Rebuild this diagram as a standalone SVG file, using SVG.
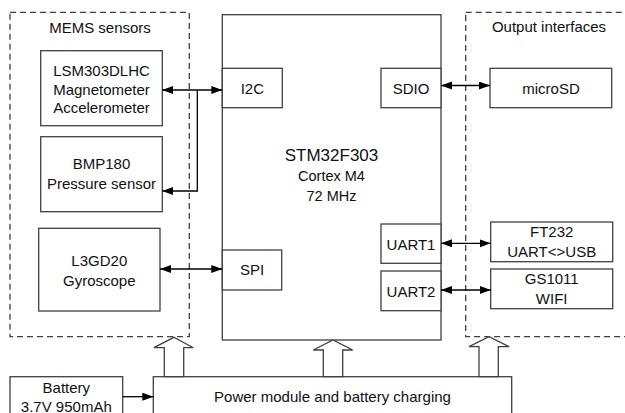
<svg xmlns="http://www.w3.org/2000/svg" width="625" height="413" viewBox="0 0 625 413">
<defs>
<marker id="ah" markerUnits="userSpaceOnUse" markerWidth="12" markerHeight="9" refX="11" refY="4" orient="auto-start-reverse">
<path d="M0,0 L11,4 L0,8 z" fill="#000"/>
</marker>
<style>
.box{fill:#fff;stroke:#404040;stroke-width:1.3}
.dash{fill:none;stroke:#404040;stroke-width:1.3;stroke-dasharray:6,4}
.t{font-family:"Liberation Sans",Arial,sans-serif;font-size:15px;fill:#111;text-anchor:middle}
.s{font-size:14.5px}
.big{font-size:17px}
.ln{fill:none;stroke:#000;stroke-width:1.3}
.blk{fill:#fff;stroke:#404040;stroke-width:1.3}
</style>
</defs>
<rect width="625" height="413" fill="#fff"/>

<g id="mems-group">
<rect class="dash" x="10" y="12.3" width="179.3" height="324.4"/>
<text class="t" x="100" y="33.3">MEMS sensors</text>
</g>
<g id="output-group">
<rect class="dash" x="465.7" y="12.3" width="200" height="324.4"/>
<text class="t" x="549" y="32.3">Output interfaces</text>
</g>

<g id="lsm303">
<rect class="box" x="40.7" y="50.7" width="121.6" height="75"/>
<text class="t" x="101.5" y="76">LSM303DLHC</text>
<text class="t" x="101.5" y="94.5">Magnetometer</text>
<text class="t" x="101.5" y="113.3">Accelerometer</text>
</g>
<g id="bmp180">
<rect class="box" x="40.7" y="136.7" width="121.6" height="75"/>
<text class="t" x="101.5" y="169.3">BMP180</text>
<text class="t" x="101.5" y="189.3">Pressure sensor</text>
</g>
<g id="l3gd20">
<rect class="box" x="38.7" y="228.3" width="121.3" height="82.7"/>
<text class="t" x="99.3" y="266">L3GD20</text>
<text class="t" x="99.3" y="285.7">Gyroscope</text>
</g>

<g id="stm32">
<rect class="box" x="222.3" y="14.7" width="218.7" height="325.3"/>
<text class="t big" x="331.5" y="160.7">STM32F303</text>
<text class="t s" x="331.5" y="180.7">Cortex M4</text>
<text class="t s" x="331.5" y="200.7">72 MHz</text>
</g>
<g id="i2c">
<rect class="box" x="222.3" y="68.3" width="60" height="39.4"/>
<text class="t" x="252.3" y="94.3">I2C</text>
</g>
<g id="spi">
<rect class="box" x="222.3" y="250" width="59.4" height="40"/>
<text class="t" x="252" y="275">SPI</text>
</g>
<g id="sdio">
<rect class="box" x="381" y="68.3" width="60" height="39.4"/>
<text class="t" x="411" y="94.3">SDIO</text>
</g>
<g id="uart1">
<rect class="box" x="381" y="224" width="60" height="39.3"/>
<text class="t" x="411" y="250">UART1</text>
</g>
<g id="uart2">
<rect class="box" x="381" y="271" width="60" height="39.7"/>
<text class="t" x="411" y="296.7">UART2</text>
</g>

<g id="microsd">
<rect class="box" x="490" y="68.3" width="121.7" height="39.4"/>
<text class="t" x="551" y="94.3">microSD</text>
</g>
<g id="ft232">
<rect class="box" x="490.7" y="222" width="122" height="39.7"/>
<text class="t" x="551.7" y="237.3">FT232</text>
<text class="t" x="551.7" y="257.3">UART&lt;&gt;USB</text>
</g>
<g id="gs1011">
<rect class="box" x="490.7" y="269" width="122" height="39.7"/>
<text class="t" x="551.7" y="284">GS1011</text>
<text class="t" x="551.7" y="304.3">WIFI</text>
</g>

<g id="battery">
<rect class="box" x="10" y="376.7" width="112.7" height="50"/>
<text class="t" x="66.3" y="393.3">Battery</text>
<text class="t" x="66.3" y="411.5">3.7V 950mAh</text>
</g>
<g id="power">
<rect class="box" x="153.3" y="376.7" width="358.4" height="50"/>
<text class="t" x="332.5" y="401.7">Power module and battery charging</text>
</g>

<g id="connectors">
<line class="ln" x1="162.3" y1="90" x2="222.3" y2="90" marker-start="url(#ah)" marker-end="url(#ah)"/>
<polyline class="ln" points="197.3,90 197.3,191 162.3,191" marker-end="url(#ah)"/>
<line class="ln" x1="160" y1="269" x2="222.3" y2="269" marker-start="url(#ah)" marker-end="url(#ah)"/>
<line class="ln" x1="441" y1="85.5" x2="490" y2="85.5" marker-start="url(#ah)" marker-end="url(#ah)"/>
<line class="ln" x1="441" y1="243.3" x2="490.7" y2="243.3" marker-start="url(#ah)" marker-end="url(#ah)"/>
<line class="ln" x1="441" y1="290" x2="490.7" y2="290" marker-start="url(#ah)" marker-end="url(#ah)"/>
<line class="ln" x1="122.7" y1="396.7" x2="153.3" y2="396.7" marker-end="url(#ah)"/>
<polygon class="blk" points="164.3,376.7 164.3,347.7 154,347.7 173.8,337.3 193.3,347.7 183.7,347.7 183.7,376.7"/>
<polygon class="blk" points="323.3,376.7 323.3,350 313.3,350 333,340 352.7,350 342.7,350 342.7,376.7"/>
<polygon class="blk" points="479,376.7 479,346.7 469,346.7 489,336.7 509,346.7 498.3,346.7 498.3,376.7"/>
</g>
</svg>
